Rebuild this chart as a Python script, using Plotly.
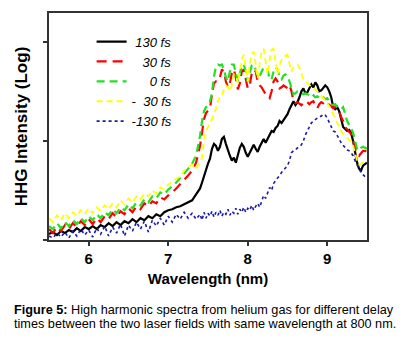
import plotly.graph_objects as go

# Wavelength grid (nm)
wavelength = [5.50, 5.55, 5.60, 5.65, 5.70, 5.75, 5.80, 5.85, 5.90, 5.95,
              6.00, 6.05, 6.10, 6.15, 6.20, 6.25, 6.30, 6.35, 6.40, 6.45,
              6.50, 6.55, 6.60, 6.65, 6.70, 6.75, 6.80, 6.85, 6.90, 6.95,
              7.00, 7.05, 7.10, 7.15, 7.20, 7.25, 7.30, 7.35,
              7.400, 7.425, 7.450, 7.475, 7.500, 7.525, 7.550, 7.575, 7.600, 7.625,
              7.650, 7.675, 7.700, 7.725, 7.750, 7.775, 7.800, 7.825, 7.850, 7.875,
              7.900, 7.925, 7.950, 7.975, 8.000, 8.025, 8.050, 8.075, 8.100, 8.125,
              8.150, 8.175, 8.200, 8.225, 8.250, 8.275, 8.300, 8.325, 8.350, 8.375,
              8.400, 8.425, 8.450, 8.475, 8.500, 8.525, 8.550, 8.575, 8.600, 8.625,
              8.650, 8.675, 8.700, 8.725, 8.750, 8.775, 8.800, 8.825, 8.850, 8.875,
              8.900, 8.925, 8.950, 8.975, 9.000, 9.025, 9.050, 9.075, 9.100, 9.125,
              9.150, 9.175, 9.200, 9.225, 9.250, 9.275, 9.300, 9.325, 9.350, 9.375,
              9.400, 9.425, 9.450, 9.475, 9.500]

# log HHG intensity (arbitrary decades) for each delay
delay_p130 = [0.06, 0.08, 0.05, 0.09, 0.07, 0.10, 0.08, 0.12, 0.09, 0.13,
              0.11, 0.14, 0.11, 0.15, 0.13, 0.17, 0.14, 0.18, 0.15, 0.19,
              0.17, 0.21, 0.18, 0.22, 0.20, 0.24, 0.22, 0.26, 0.24, 0.28,
              0.30, 0.31, 0.33, 0.34, 0.36, 0.38, 0.40, 0.46,
              0.52, 0.58, 0.65, 0.72, 0.77, 0.82, 0.92, 0.97, 0.95, 0.90,
              0.94, 1.02, 1.04, 0.97, 0.90, 0.85, 0.80, 0.83, 0.78, 0.85,
              0.93, 0.97, 0.94, 0.88, 0.84, 0.88, 0.93, 0.96, 0.92, 0.89,
              0.94, 0.99, 1.02, 0.98, 1.02, 1.07, 1.10, 1.09, 1.13, 1.15,
              1.20, 1.18, 1.21, 1.25, 1.27, 1.32, 1.36, 1.40, 1.36, 1.39,
              1.44, 1.50, 1.53, 1.48, 1.49, 1.53, 1.57, 1.54, 1.59, 1.56,
              1.50, 1.51, 1.54, 1.56, 1.54, 1.50, 1.44, 1.34, 1.32, 1.34,
              1.30, 1.22, 1.14, 1.12, 1.10, 1.11, 1.08, 1.00, 0.88, 0.78,
              0.72, 0.70, 0.75, 0.77, 0.78]

delay_p30 = [0.11, 0.07, 0.13, 0.09, 0.15, 0.11, 0.17, 0.13, 0.19, 0.15,
             0.21, 0.16, 0.22, 0.18, 0.24, 0.21, 0.27, 0.23, 0.29, 0.26,
             0.32, 0.28, 0.34, 0.31, 0.37, 0.34, 0.39, 0.37, 0.43, 0.41,
             0.45, 0.48, 0.52, 0.56, 0.61, 0.65, 0.70, 0.78,
             0.95, 1.07, 1.22, 1.28, 1.30, 1.33, 1.47, 1.58, 1.60, 1.60,
             1.64, 1.72, 1.70, 1.60, 1.54, 1.58, 1.68, 1.72, 1.64, 1.52,
             1.58, 1.70, 1.72, 1.64, 1.53, 1.56, 1.68, 1.72, 1.70, 1.60,
             1.56, 1.54, 1.50, 1.47, 1.45, 1.43, 1.50, 1.60, 1.63, 1.60,
             1.53, 1.54, 1.56, 1.54, 1.53, 1.56, 1.50, 1.40, 1.38, 1.39,
             1.37, 1.36, 1.38, 1.40, 1.39, 1.37, 1.39, 1.40, 1.36, 1.33,
             1.37, 1.39, 1.38, 1.40, 1.38, 1.36, 1.34, 1.33, 1.34, 1.32,
             1.30, 1.24, 1.20, 1.14, 1.12, 1.10, 1.07, 1.00, 0.92, 0.87,
             0.85, 0.88, 0.90, 0.90, 0.89]

delay_0 = [0.14, 0.11, 0.17, 0.12, 0.18, 0.14, 0.20, 0.16, 0.22, 0.18,
           0.24, 0.20, 0.26, 0.22, 0.28, 0.25, 0.31, 0.27, 0.33, 0.30,
           0.36, 0.32, 0.38, 0.35, 0.41, 0.38, 0.44, 0.42, 0.48, 0.46,
           0.51, 0.54, 0.58, 0.62, 0.67, 0.72, 0.77, 0.85,
           1.05, 1.20, 1.30, 1.34, 1.36, 1.40, 1.48, 1.65, 1.75, 1.77,
           1.76, 1.77, 1.72, 1.64, 1.60, 1.70, 1.77, 1.77, 1.68, 1.60,
           1.68, 1.76, 1.77, 1.70, 1.60, 1.68, 1.76, 1.77, 1.72, 1.64,
           1.65, 1.70, 1.74, 1.74, 1.72, 1.62, 1.62, 1.70, 1.74, 1.72,
           1.64, 1.62, 1.66, 1.67, 1.65, 1.60, 1.52, 1.47, 1.48, 1.50,
           1.50, 1.49, 1.47, 1.48, 1.47, 1.46, 1.48, 1.46, 1.44, 1.45,
           1.43, 1.42, 1.44, 1.42, 1.43, 1.40, 1.37, 1.36, 1.37, 1.34,
           1.33, 1.32, 1.34, 1.26, 1.20, 1.16, 1.13, 1.08, 1.00, 0.92,
           0.90, 0.93, 0.94, 0.93, 0.92]

delay_m30 = [0.22, 0.18, 0.25, 0.20, 0.27, 0.22, 0.28, 0.24, 0.30, 0.26,
             0.32, 0.27, 0.33, 0.29, 0.35, 0.31, 0.37, 0.33, 0.40, 0.36,
             0.42, 0.38, 0.44, 0.41, 0.47, 0.44, 0.50, 0.47, 0.53, 0.51,
             0.56, 0.58, 0.62, 0.64, 0.70, 0.74, 0.76, 0.72,
             0.78, 0.83, 1.00, 1.10, 1.14, 1.18, 1.22, 1.28, 1.32, 1.40,
             1.45, 1.45, 1.52, 1.56, 1.54, 1.50, 1.56, 1.67, 1.66, 1.58,
             1.72, 1.82, 1.87, 1.72, 1.60, 1.78, 1.88, 1.90, 1.75, 1.63,
             1.78, 1.90, 1.93, 1.80, 1.67, 1.82, 1.92, 1.93, 1.80, 1.67,
             1.76, 1.82, 1.85, 1.86, 1.87, 1.78, 1.70, 1.74, 1.76, 1.77,
             1.74, 1.68, 1.62, 1.60, 1.58, 1.56, 1.54, 1.53, 1.52, 1.50,
             1.48, 1.45, 1.43, 1.41, 1.38, 1.35, 1.32, 1.27, 1.22, 1.18,
             1.14, 1.10, 1.07, 1.04, 1.03, 1.01, 0.99, 0.95, 0.88, 0.80,
             0.76, 0.77, 0.78, 0.77, 0.75]

delay_m130 = [0.04, 0.02, 0.07, 0.03, 0.08, 0.02, 0.09, 0.04, 0.11, 0.05,
              0.10, 0.03, 0.12, 0.06, 0.14, 0.04, 0.13, 0.07, 0.16, 0.04,
              0.15, 0.09, 0.18, 0.11, 0.19, 0.08, 0.20, 0.14, 0.22, 0.15,
              0.24, 0.18, 0.26, 0.21, 0.28, 0.22, 0.27, 0.21,
              0.26, 0.20, 0.28, 0.22, 0.27, 0.24, 0.29, 0.23, 0.28, 0.25,
              0.30, 0.24, 0.28, 0.26, 0.31, 0.25, 0.29, 0.27, 0.32, 0.26,
              0.31, 0.28, 0.33, 0.28, 0.32, 0.30, 0.35, 0.30, 0.34, 0.37,
              0.33, 0.40, 0.45, 0.42, 0.48, 0.53, 0.50, 0.57, 0.60, 0.62,
              0.65, 0.68, 0.70, 0.72, 0.75, 0.80, 0.88, 0.90, 0.91, 0.93,
              0.94, 0.96, 1.00, 1.06, 1.10, 1.15, 1.18, 1.20, 1.22, 1.23,
              1.24, 1.25, 1.27, 1.26, 1.23, 1.18, 1.13, 1.10, 1.09, 1.06,
              1.02, 0.98, 0.95, 0.93, 0.91, 0.90, 0.88, 0.85, 0.80, 0.76,
              0.72, 0.68, 0.66, 0.64, 0.62]

legend_labels = ["130 fs", "30 fs", "0 fs", "-  30 fs", "-130 fs"]
x_ticks = [6, 7, 8, 9]
y_ticks = [0, 1, 2]

FONT = "Arial, Liberation Sans, sans-serif"
NB = "\u00a0"

series = [
    (delay_p130, NB + legend_labels[0], dict(color="#000000", width=2.2, dash="solid")),
    (delay_p30, NB * 3 + legend_labels[1], dict(color="#ff0000", width=2.2, dash="10px,6px")),
    (delay_0, NB * 5 + legend_labels[2], dict(color="#22e022", width=2.2, dash="8px,5px")),
    (delay_m30, "-" + NB * 2 + "30 fs", dict(color="#ffff00", width=1.8, dash="6px,4px")),
    (delay_m130, legend_labels[4], dict(color="#1a1aa8", width=1.6, dash="dot")),
]

fig = go.Figure()
for vals, name, line in series:
    fig.add_trace(go.Scatter(x=wavelength, y=vals, mode="lines", name=name, line=line))

fig.update_layout(
    width=419, height=340,
    margin=dict(l=49, r=52, t=11, b=100),
    paper_bgcolor="white", plot_bgcolor="white",
    font=dict(family=FONT, color="black"),
    showlegend=True,
    legend=dict(x=0.134, y=0.94, xanchor="left", yanchor="top",
                bgcolor="rgba(0,0,0,0)", borderwidth=0,
                font=dict(family=FONT, size=13, style="italic", color="black"),
                tracegroupgap=0),
)

fig.update_xaxes(
    range=[5.5, 9.5], tickvals=x_ticks, ticktext=[str(t) for t in x_ticks],
    ticks="outside", ticklen=4, tickwidth=1.5, tickcolor="#333",
    showline=True, mirror=True, linecolor="#333", linewidth=1.5,
    showgrid=False, zeroline=False,
    tickfont=dict(family=FONT, size=15, weight="bold", color="black"),
    title=dict(text="Wavelength (nm)", standoff=8,
               font=dict(family=FONT, size=15, weight="bold", color="black")),
)
fig.update_yaxes(
    range=[0, 2.29], tickvals=y_ticks, showticklabels=False,
    ticks="outside", ticklen=4, tickwidth=1.5, tickcolor="#333",
    showline=True, mirror=True, linecolor="#333", linewidth=1.5,
    showgrid=False, zeroline=False,
    title=dict(text="HHG Intensity (Log)", standoff=11,
               font=dict(family=FONT, size=17, weight="bold", color="black")),
)

# Caption
fig.add_annotation(
    xref="paper", yref="paper", x=-0.1164, y=(240 - 311) / 229,
    xanchor="left", yanchor="middle", showarrow=False, align="left",
    text="<b>Figure 5:</b> High harmonic spectra from helium gas for different delay",
    font=dict(family=FONT, size=12.7, color="black"),
)
fig.add_annotation(
    xref="paper", yref="paper", x=-0.1164, y=(240 - 325) / 229,
    xanchor="left", yanchor="middle", showarrow=False, align="left",
    text="times between the two laser fields with same wavelength at 800 nm.",
    font=dict(family=FONT, size=12.7, color="black"),
)

fig.write_html("out.html", config={"displayModeBar": False},
               post_script="document.body.style.margin='0';document.body.style.padding='0';")
